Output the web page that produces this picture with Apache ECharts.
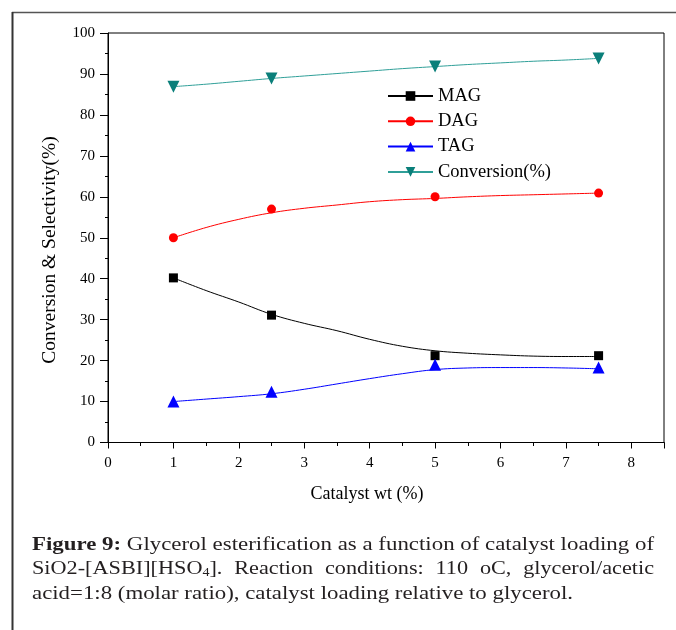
<!DOCTYPE html>
<html><head><meta charset="utf-8">
<script src="https://cdn.jsdelivr.net/npm/echarts@6/dist/echarts.min.js"></script>
<style>html,body{margin:0;padding:0;background:#fff}#c{width:676px;height:630px}</style>
</head><body><div id="c"></div>
<script>
// measured data points
const catalyst = [1, 2.5, 5, 7.5];
const magVals = [40.2, 31.1, 21.2, 21.2];
const dagVals = [50.0, 57.0, 60.0, 60.9];
const tagVals = [10.0, 12.4, 19.0, 18.3];
const convVals = [86.9, 88.9, 91.8, 93.8];
// fitted curves
const fitX = [1, 1.5, 2, 2.5, 3, 3.5, 4, 4.5, 5, 5.5, 6, 6.5, 7, 7.5];
const magFit = [40.2, 37.1, 34.3, 31.3, 29.1, 27.3, 25.2, 23.5, 22.4, 21.8, 21.4, 21.1, 21.0, 21.0];
const dagFit = [50.0, 52.5, 54.5, 56.1, 57.2, 58.0, 58.8, 59.3, 59.6, 60.0, 60.3, 60.5, 60.7, 60.9];
const tagFit = [10.0, 10.6, 11.2, 11.9, 13.0, 14.3, 15.6, 16.8, 17.8, 18.2, 18.3, 18.3, 18.2, 18.0];
const convFit = [86.9, 87.5, 88.2, 88.9, 89.5, 90.1, 90.7, 91.3, 91.8, 92.3, 92.7, 93.1, 93.4, 93.8];
const seriesNames = ['MAG', 'DAG', 'TAG', 'Conversion(%)'];
const yTicks = [0, 10, 20, 30, 40, 50, 60, 70, 80, 90, 100];
const xTicks = [0, 1, 2, 3, 4, 5, 6, 7, 8];

const F = 'Liberation Serif';
const pair = (xs, ys) => xs.map((x, i) => [x, ys[i]]);
const chart = echarts.init(document.getElementById('c'));

const styles = [
  {line: '#000000', mark: '#000000', symbol: 'rect', rot: 0, size: 9},
  {line: '#ff0000', mark: '#ff0000', symbol: 'circle', rot: 0, size: 9},
  {line: '#0000ff', mark: '#0000ff', symbol: 'triangle', rot: 0, size: 12},
  {line: '#2f9f98', mark: '#0a7f7a', symbol: 'triangle', rot: 180, size: 12}
];
const fits = [magFit, dagFit, tagFit, convFit];
const vals = [magVals, dagVals, tagVals, convVals];
const series = [];
seriesNames.forEach((n, i) => {
  const s = styles[i];
  series.push({
    type: 'line', name: n, data: pair(fitX, fits[i]), smooth: 0.4,
    showSymbol: false, symbol: s.symbol, symbolRotate: s.rot,
    lineStyle: {color: s.line, width: 1}, itemStyle: {color: s.mark},
    silent: true, z: 2
  });
});
seriesNames.forEach((n, i) => {
  const s = styles[i];
  series.push({
    type: 'scatter', name: n + ' pts', data: pair(catalyst, vals[i]),
    symbol: s.symbol, symbolRotate: s.rot, symbolSize: s.size,
    itemStyle: {color: s.mark, opacity: 1}, z: 3
  });
});

// caption text
const CAPC = '#231f20';
const richStyles = {
  b: {fontFamily: F, fontSize: 19, fontWeight: 'bold', fill: CAPC},
  n: {fontFamily: F, fontSize: 19, lineHeight: 19, fill: CAPC, verticalAlign: 'bottom'},
  s: {fontFamily: F, fontSize: 12, lineHeight: 6, fill: CAPC, verticalAlign: 'bottom'}
};
function capStyle(text) {
  return {text: text, fontFamily: F, fontSize: 19, fill: CAPC, verticalAlign: 'middle', rich: richStyles};
}
function measure(style, fallback) {
  try {
    const w = new echarts.graphic.Text({style: style}).getBoundingRect().width;
    if (w > 0) return w;
  } catch (e) {}
  return fallback;
}
function cap(x0, x1, y, text) {
  const style = capStyle(text);
  const sx = (x1 - x0) / measure(style, (x1 - x0) / 1.2);
  return {type: 'text', x: x0, y: y, scaleX: sx, style: style};
}
// justified line: words share a horizontal stretch, extra space goes between them
function justify(x0, x1, y, words, sx) {
  const st = words.map(capStyle);
  const ws = st.map((s, i) => measure(s, words[i].length * 9) * sx);
  const total = ws.reduce((a, b) => a + b, 0);
  const gap = (x1 - x0 - total) / (words.length - 1);
  let x = x0;
  return st.map((s, i) => {
    const el = {type: 'text', x: x, y: y, scaleX: sx, style: s};
    x += ws[i] + gap;
    return el;
  });
}

chart.setOption({
  animation: false,
  grid: {left: 108, top: 33, right: 12, bottom: 187.5, show: true, borderColor: '#000', borderWidth: 1},
  legend: {
    data: seriesNames, orient: 'vertical', left: 387, top: 86.5, padding: 0,
    itemWidth: 45, itemHeight: 12, itemGap: 6.3,
    textStyle: {fontFamily: F, fontSize: 18.5, color: '#000'}
  },
  xAxis: [{
    type: 'value', min: 0, max: 8.5, interval: 1,
    axisLine: {lineStyle: {color: '#000', width: 1}},
    axisTick: {show: true, length: 6, lineStyle: {color: '#000'}},
    axisLabel: {margin: 13, fontFamily: F, fontSize: 15, color: '#000',
      formatter: v => xTicks.indexOf(v) >= 0 ? String(v) : ''},
    splitLine: {show: false}
  }, {
    type: 'value', min: 0, max: 8.5, interval: 0.5, position: 'bottom',
    axisLine: {show: false},
    axisTick: {show: true, length: 3.5, lineStyle: {color: '#000'}},
    axisLabel: {show: false}, splitLine: {show: false}
  }],
  yAxis: {
    type: 'value', min: 0, max: 100, interval: 10,
    axisLine: {show: true, lineStyle: {color: '#000', width: 1}},
    axisTick: {show: true, length: 8, lineStyle: {color: '#000'}},
    minorTick: {show: true, splitNumber: 2, length: 3, lineStyle: {color: '#000'}},
    axisLabel: {margin: 13, fontFamily: F, fontSize: 15, color: '#000',
      formatter: v => yTicks.indexOf(v) >= 0 ? String(v) : ''},
    splitLine: {show: false}
  },
  series: series,
  graphic: [
    {type: 'line', shape: {x1: 12, y1: 12.5, x2: 676, y2: 12.5}, style: {stroke: '#555', lineWidth: 1.5}},
    {type: 'line', shape: {x1: 12.5, y1: 12, x2: 12.5, y2: 630}, style: {stroke: '#333', lineWidth: 2}},
    {type: 'text', x: 50, y: 250, rotation: Math.PI / 2,
      style: {text: 'Conversion & Selectivity(%)', fontFamily: F, fontSize: 19.5, fill: '#000', align: 'center', verticalAlign: 'middle'}},
    {type: 'text', x: 367, y: 494,
      style: {text: 'Catalyst wt (%)', fontFamily: F, fontSize: 18, fill: '#000', align: 'center', verticalAlign: 'middle'}},
    cap(32, 654, 545, '{b|Figure 9:} Glycerol esterification as a function of catalyst loading of'),
    ...justify(32, 654, 569, ['{n|SiO2-[ASBI][HSO}{s|4}{n|].}', 'Reaction', 'conditions:', '110', 'oC,', 'glycerol/acetic'], 1.17),
    cap(32, 573, 594, 'acid=1:8 (molar ratio), catalyst loading relative to glycerol.')
  ]
});
</script></body></html>
